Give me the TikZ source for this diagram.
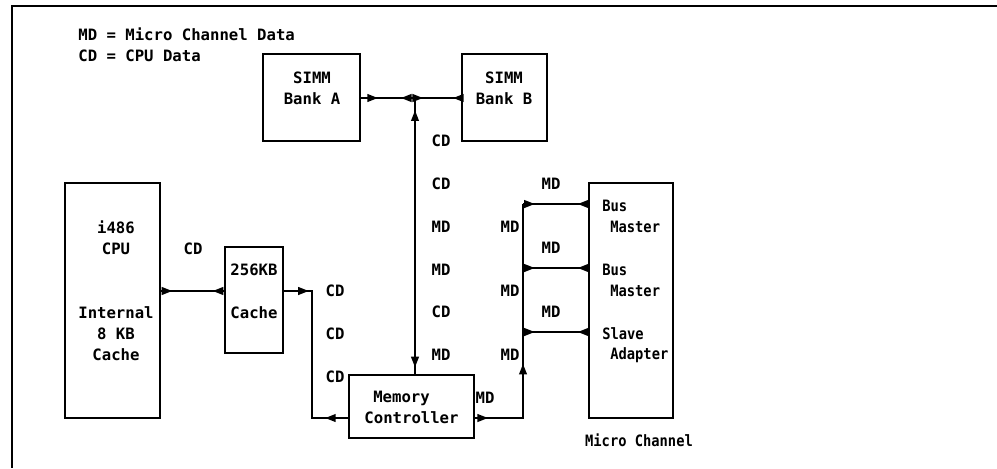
\documentclass[tikz,border=0pt]{standalone}
\usepackage{fontspec}
\setmonofont{DejaVu Sans Mono}
\usetikzlibrary{arrows.meta,decorations.markings,positioning}

\newcommand{\slimtext}[1]{\scalebox{0.88}[1]{#1}}

\tikzset{
  flowtip/.tip={Triangle[length=6pt,width=4.4pt]},
  box/.style={draw,line width=1pt,inner sep=0pt},
  wire/.style={line width=1pt},
  txt/.style={inner sep=0pt},
  fwd/.style={postaction={decorate,decoration={markings,mark=at position #1 with {\arrow{flowtip}}}}},
  bwd/.style={postaction={decorate,decoration={markings,mark=at position #1 with {\arrowreversed{flowtip}}}}},
}

\begin{document}
\begin{tikzpicture}[x=0.02cm,y=-0.02cm,font=\ttfamily\bfseries\fontsize{8.9}{11.9}\selectfont]
\useasboundingbox (0,0) rectangle (997,468);
% frame round the figure
\draw[wire] (997,6) -- (12,6) -- (12,468);
\node[txt,anchor=west,align=left] (key) at (78,44.5) {MD = Micro Channel Data\\CD = CPU Data};

% boxes
\node[box,minimum width=1.94cm,minimum height=1.74cm] (banka) at (311.5,97.5) {};
\node[box,minimum width=1.70cm,minimum height=1.74cm] (bankb) at (504.5,97.5) {};
\node[box,minimum width=1.90cm,minimum height=4.70cm] (cpu) at (112.5,300.5) {};
\node[box,minimum width=1.16cm,minimum height=2.12cm] (cache) at (254,300) {};
\node[box,minimum width=2.50cm,minimum height=1.26cm] (memctl) at (411.5,406.5) {};
\node[box,minimum width=1.68cm,minimum height=4.70cm] (mca) at (631,300.5) {};

% box texts
\node[txt,align=center] (bankatxt) at (312,88.5) {SIMM\\Bank A};
\node[txt,align=center] (bankbtxt) at (504,88.5) {SIMM\\Bank B};
\node[txt,align=center] (cputxt) at (116,238) {i486\\CPU};
\node[txt,align=center] (l1txt) at (116,334) {Internal\\8 KB\\Cache};
\node[txt] (sizetxt) at (254,270) {256KB};
\node[txt] (cachetxt) at (254,313) {Cache};
\node[txt] (memtxt) at (401.5,398) {Memory};
\node[txt] (ctltxt) at (411.5,418) {Controller};
\node[txt,anchor=west] (bm1a) at (602,206) {\slimtext{Bus}};
\node[txt,anchor=west] (bm1b) at (610,227) {\slimtext{Master}};
\node[txt,anchor=west] (bm2a) at (602,270) {\slimtext{Bus}};
\node[txt,anchor=west] (bm2b) at (610,291) {\slimtext{Master}};
\node[txt,anchor=west] (slva) at (602,334) {\slimtext{Slave}};
\node[txt,anchor=west] (slvb) at (610,355) {\slimtext{Adapter}};
\node[txt] (mcatxt) at (639,440) {\slimtext{Micro Channel}};

% bus points
\coordinate (jn) at (415,98);
\coordinate (row) at (0,291);
\coordinate (mrow) at (0,418);
\coordinate (mtop) at (523,204);
\coordinate (mmid) at (523,268);
\coordinate (mlow) at (523,332);

% SIMM bus and CPU data path
\draw[wire,fwd=0.17,bwd=0.40,fwd=0.62,bwd=0.92] (banka.east |- jn) -- (bankb.west |- jn);
\draw[wire,bwd=0.045,fwd=0.975] (jn) -- (jn |- memctl.north);
\draw[wire,fwd=0.18,bwd=0.82] (cpu.east |- row) -- (cache.west |- row);
\draw[wire,fwd=0.13,bwd=0.88] (cache.east |- row) -- ++(28,0) |- (memctl.west |- mrow);

% micro channel data path
\draw[wire,fwd=0.05,fwd=0.39] (memctl.east |- mrow) -| (mtop);
\foreach \b in {mtop,mmid,mlow}
  \draw[wire,fwd=0.18,bwd=0.84] (\b) -- (mca.west |- \b);

% bus labels
\foreach \y/\t in {141/CD,184/CD,227/MD,270/MD,312/CD,355/MD}
  \node[txt] at (441,\y) {\t};
\foreach \y in {291,334,377}
  \node[txt] at (335,\y) {CD};
\foreach \y in {184,248,312}
  \node[txt] at (551,\y) {MD};
\foreach \y in {227,291,355}
  \node[txt] at (510,\y) {MD};
\node[txt] (cpucd) at (193,249) {CD};
\node[txt] (memmd) at (485,398) {MD};
\end{tikzpicture}
\end{document}
